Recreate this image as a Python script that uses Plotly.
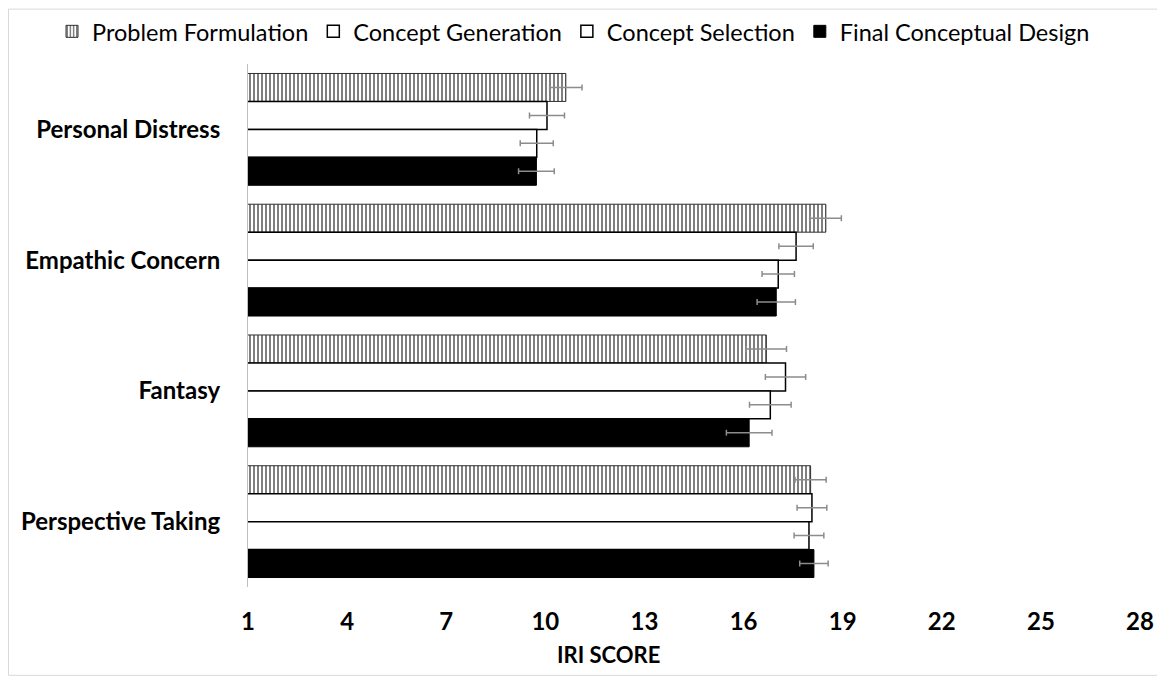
import plotly.graph_objects as go

categories = ["Personal Distress", "Empathic Concern", "Fantasy", "Perspective Taking"]
series_names = ["Problem Formulation", "Concept Generation", "Concept Selection", "Final Conceptual Design"]

problem_formulation = [10.62, 18.49, 16.69, 18.03]
concept_generation = [10.05, 17.59, 17.27, 18.07]
concept_selection = [9.74, 17.05, 16.81, 17.98]
final_conceptual_design = [9.73, 16.99, 16.17, 18.13]

err_problem_formulation = [0.49, 0.47, 0.61, 0.47]
err_concept_generation = [0.53, 0.52, 0.61, 0.45]
err_concept_selection = [0.50, 0.49, 0.63, 0.45]
err_final_conceptual_design = [0.54, 0.58, 0.69, 0.43]

x_ticks = [1, 4, 7, 10, 13, 16, 19, 22, 25, 28]

FONT = "Lato"

# page body has an 8px margin: figure is sized to fill the rest of the 1165x683 window
W, H = 1157, 675
L, R, T, B = 240, 25, 55.5, 95.5
PW, PH = W - L - R, H - T - B

fig = go.Figure()

err_style = dict(type="data", color="#8c8c8c", thickness=1.5, width=3, visible=True)

fig.add_trace(go.Bar(
    name=series_names[0], y=categories, x=problem_formulation, orientation="h",
    marker=dict(color="white", line=dict(color="#303030", width=1),
                pattern=dict(shape="|", fgcolor="black", bgcolor="white", size=4, solidity=0.5)),
    error_x=dict(array=err_problem_formulation, **err_style),
))
fig.add_trace(go.Bar(
    name=series_names[1], y=categories, x=concept_generation, orientation="h",
    marker=dict(color="white", line=dict(color="black", width=1.5)),
    error_x=dict(array=err_concept_generation, **err_style),
))
fig.add_trace(go.Bar(
    name=series_names[2], y=categories, x=concept_selection, orientation="h",
    marker=dict(color="white", line=dict(color="black", width=1.5)),
    error_x=dict(array=err_concept_selection, **err_style),
))
fig.add_trace(go.Bar(
    name=series_names[3], y=categories, x=final_conceptual_design, orientation="h",
    marker=dict(color="black", line=dict(color="black", width=1)),
    error_x=dict(array=err_final_conceptual_design, **err_style),
))

fig.update_layout(
    width=W, height=H,
    margin=dict(l=L, r=R, t=T, b=B, autoexpand=False),
    paper_bgcolor="white", plot_bgcolor="white",
    font=dict(family=FONT, color="black"),
    barmode="group", bargap=0.145, bargroupgap=0,
    showlegend=True,
    legend=dict(orientation="h",
                x=(44 - L) / PW, xanchor="left", y=(H - B - 23) / PH, yanchor="middle",
                font=dict(family=FONT, size=23.5, color="black"),
                traceorder="normal", itemclick=False, bgcolor="rgba(0,0,0,0)"),
    xaxis=dict(range=[1, 28], tickvals=x_ticks, showgrid=False, zeroline=False,
               showline=False, ticks="outside", ticklen=13, tickcolor="rgba(0,0,0,0)",
               tickangle=0,
               tickfont=dict(family=FONT, size=24, weight="bold", color="black")),
    yaxis=dict(categoryorder="array", categoryarray=categories, range=[3.5, -0.5],
               showgrid=False, zeroline=False, showline=True, linecolor="#bfbfbf", linewidth=1,
               ticks="outside", ticklen=22, tickcolor="rgba(0,0,0,0)",
               tickfont=dict(family=FONT, size=24, weight="bold", color="black")),
    annotations=[dict(text="IRI SCORE", xref="paper", yref="paper",
                      x=(600 - L) / PW, y=-(647 - (H - B)) / PH,
                      xanchor="center", yanchor="middle", showarrow=False,
                      font=dict(family=FONT, size=22, weight="bold", color="black"))],
    shapes=[dict(type="rect", xref="paper", yref="paper",
                 x0=(0.5 - L) / PW, x1=(1150 - L) / PW,
                 y0=-(668 - (H - B)) / PH, y1=(H - B - 0.5) / PH,
                 line=dict(color="#d9d9d9", width=1), fillcolor="rgba(0,0,0,0)", layer="below")],
)

fig.write_html("out.html")
